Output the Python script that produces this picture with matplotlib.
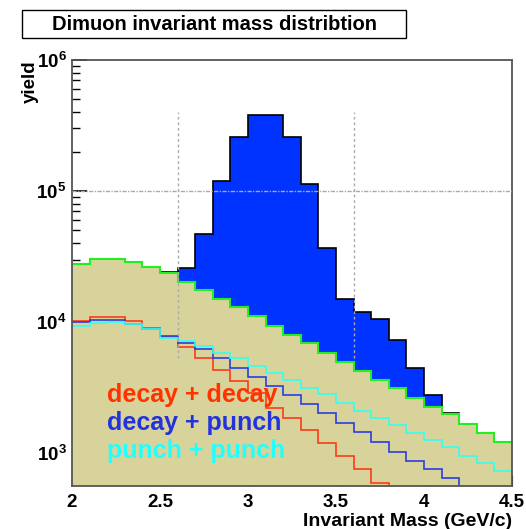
import numpy as np
import matplotlib
matplotlib.use("Agg")
import matplotlib.pyplot as plt
from matplotlib.patches import Rectangle
from matplotlib.ticker import FixedLocator, LogLocator, NullFormatter

plt.rcParams['font.family'] = ['Liberation Sans', 'DejaVu Sans']
plt.rcParams['font.weight'] = 'bold'
plt.rcParams['mathtext.fontset'] = 'custom'
plt.rcParams['mathtext.rm'] = 'Liberation Sans:bold'
plt.rcParams['mathtext.bf'] = 'Liberation Sans:bold'

# bin edges: 2.0 .. 4.5 GeV/c, 0.1 wide
edges = np.round(np.arange(2.0, 4.55, 0.1), 2)

# signal + background (blue histogram)
total = [27600, 30300, 30300, 28900, 26200, 24200, 25700, 47000, 119800, 257000,
         380000, 380000, 257000, 112500, 36900, 15000, 12000, 10500, 7350, 4430,
         2770, 2030, 1660, 1410, 1220]
# all background (khaki histogram)
background = [27600, 30300, 30300, 28900, 26200, 23500, 20300, 17550, 15000, 13100,
              11100, 9370, 8000, 6880, 5830, 4980, 4250, 3610, 3120, 2640,
              2260, 1985, 1660, 1410, 1220]
decay_decay = [10180, 10860, 10860, 10180, 8950, 7640, 6480, 5280, 4300, 3545,
               2855, 2195, 1840, 1500, 1186, 949, 751, 587, 460, 380,
               320, 260, 210, 170, 140]
decay_punch = [9950, 10360, 10360, 9700, 8840, 7860, 6880, 6220, 5280, 4430,
               3820, 3260, 2770, 2370, 2010, 1700, 1450, 1220, 1020, 873,
               751, 641, 500, 420, 360]
punch_punch = [9370, 9770, 9950, 9600, 8840, 7590, 7160, 6590, 5830, 5280,
               4640, 4060, 3610, 3120, 2810, 2420, 2100, 1840, 1640, 1410,
               1257, 1105, 954, 834, 733]

legend_labels = ["decay + decay", "decay + punch", "punch + punch"]
legend_colors = ['#ff3300', '#2233dd', '#22ffff']

fig = plt.figure(figsize=(5.26, 5.29), dpi=100)
ax = fig.add_axes([72/526, 1-486/529, 440/526, 426/529])
ax.set_yscale('log')
ax.set_xlim(2.0, 4.5)
ax.set_ylim(560, 1e6)
ax.set_axisbelow(True)

ax.stairs(total, edges, fill=True, baseline=1, color='#0033ff', lw=0)
ax.stairs(total, edges, baseline=None, color='black', lw=1.2)
ax.stairs(background, edges, fill=True, baseline=1, color='#d8d39a', lw=0)
ax.stairs(background, edges, baseline=None, color='#22ee22', lw=1.5)

ax.stairs(decay_decay, edges, baseline=None, color='#ff3a1a', lw=1.2)
ax.stairs(decay_punch, edges, baseline=None, color='#2a3ee0', lw=1.2)
ax.stairs(punch_punch, edges, baseline=None, color='#33ffee', lw=1.2)

# mass window markers
ax.vlines([2.6, 3.6], 5300, 4e5, colors='#aaaaaa', linestyles=(0, (2, 2)), lw=1, zorder=3)
ax.hlines(1e5, 2.0, 4.5, colors='#aaaaaa', linestyles=(0, (3, 1, 1, 1)), lw=1, zorder=3)

for i, (lab, c) in enumerate(zip(legend_labels, legend_colors)):
    fig.text(107/526, 1 - (395 + 28*i)/529, lab, color=c, fontsize=18,
             fontweight='bold', va='center', ha='left')

ax.xaxis.set_major_locator(FixedLocator([2, 2.5, 3, 3.5, 4, 4.5]))
ax.set_xticklabels(['2', '2.5', '3', '3.5', '4', '4.5'])
ax.yaxis.set_major_locator(FixedLocator([1e3, 1e4, 1e5, 1e6]))
ax.set_yticklabels([r'$10^{3}$', r'$10^{4}$', r'$10^{5}$', r'$10^{6}$'])
ax.yaxis.set_minor_locator(LogLocator(base=10, subs=np.arange(2, 10)))
ax.yaxis.set_minor_formatter(NullFormatter())
ax.tick_params(axis='both', which='both', direction='in', labelsize=13.5)
ax.tick_params(axis='y', which='major', length=11, width=1.2, pad=4)
ax.tick_params(axis='y', which='minor', length=6, width=1)
ax.tick_params(axis='x', which='major', length=8, pad=6)

for s in ax.spines.values():
    s.set_color('#555555')
    s.set_linewidth(1.3)

ax.set_xlabel('Invariant Mass (GeV/c)', loc='right', fontsize=14, fontweight='bold', labelpad=1)
ax.set_ylabel('yield', loc='top', fontsize=13.5, fontweight='bold', labelpad=-2)

fig.add_artist(Rectangle((22/526, 1-38/529), 384/526, 28/529, transform=fig.transFigure,
                         fill=False, ec='black', lw=1))
fig.text(215/526, 1-24/529, 'Dimuon invariant mass distribtion', ha='center', va='center',
         fontsize=14.5, fontweight='bold')

fig.savefig('out.png', dpi=100)
